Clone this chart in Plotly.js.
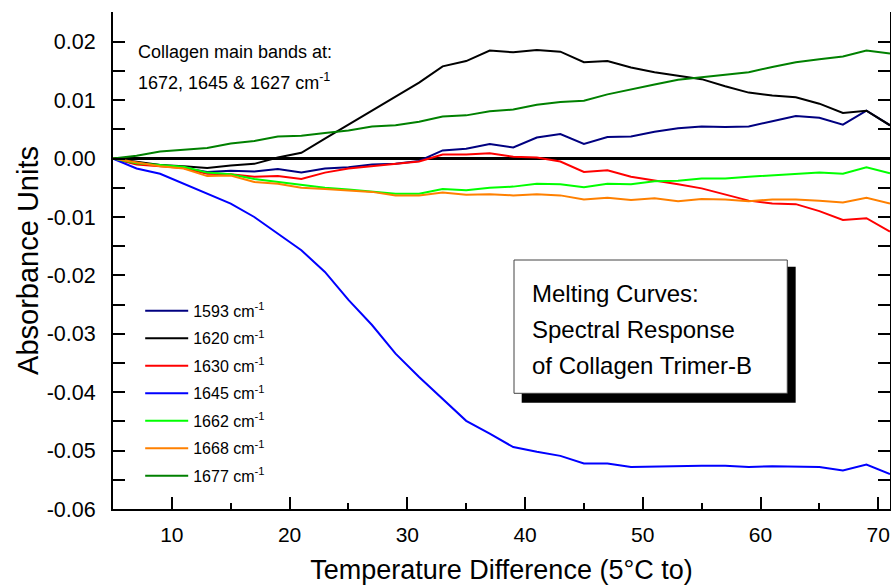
<!DOCTYPE html>
<html>
<head>
<meta charset="utf-8">
<script src="https://cdn.plot.ly/plotly-3.0.1.min.js"></script>
<style>html,body{margin:0;padding:0;background:#fff;}#chart{width:891px;height:585px;}</style>
</head>
<body>
<div id="chart"></div>
<script>
// Temperature difference (x values)
const temps = [5,7,9,11,13,15,17,19,21,23,25,27,29,31,33,35,37,39,41,43,45,47,49,51,53,55,57,59,61,63,65,67,69,71];

// Series values (absorbance units)
const s1593 = [0,-0.0009,-0.0011,-0.0016,-0.0023,-0.0021,-0.0022,-0.0018,-0.0024,-0.0017,-0.0015,-0.001,-0.0009,-0.0004,0.0014,0.0017,0.0025,0.0019,0.0036,0.0042,0.0025,0.0037,0.0038,0.0046,0.0052,0.0055,0.0054,0.0055,0.0064,0.0073,0.007,0.0058,0.0082,0.0057];
const s1620 = [0,-0.0006,-0.0011,-0.0013,-0.0016,-0.0012,-0.0009,0.0002,0.001,0.0034,0.0058,0.0082,0.0105,0.013,0.0158,0.0167,0.0185,0.0182,0.0186,0.0183,0.0165,0.0167,0.0156,0.0148,0.0142,0.0136,0.0124,0.0113,0.0108,0.0105,0.0094,0.0078,0.0082,0.0057];
const s1630 = [0,-0.001,-0.0013,-0.0016,-0.0026,-0.0027,-0.0031,-0.003,-0.0035,-0.0024,-0.0017,-0.0013,-0.001,-0.0005,0.0007,0.0007,0.0009,0.0003,0.0002,-0.0005,-0.0023,-0.002,-0.0031,-0.0037,-0.0044,-0.0051,-0.0062,-0.0072,-0.0077,-0.0078,-0.009,-0.0105,-0.0102,-0.0125];
const s1645 = [0,-0.0017,-0.0026,-0.0043,-0.006,-0.0077,-0.01,-0.0128,-0.0157,-0.0194,-0.0242,-0.0285,-0.0334,-0.0374,-0.0411,-0.0449,-0.0471,-0.0494,-0.0502,-0.0509,-0.0522,-0.0522,-0.0528,-0.0527,-0.0526,-0.0526,-0.0526,-0.0528,-0.0527,-0.0527,-0.0528,-0.0534,-0.0524,-0.054];
const s1662 = [0,-0.0008,-0.0011,-0.0014,-0.0024,-0.0027,-0.0035,-0.004,-0.0046,-0.005,-0.0053,-0.0057,-0.006,-0.006,-0.0052,-0.0054,-0.005,-0.0048,-0.0043,-0.0044,-0.0049,-0.0043,-0.0044,-0.0039,-0.0038,-0.0034,-0.0034,-0.0031,-0.0029,-0.0027,-0.0024,-0.0026,-0.0015,-0.0025];
const s1668 = [0,-0.0007,-0.0013,-0.0017,-0.003,-0.0029,-0.004,-0.0043,-0.005,-0.0052,-0.0054,-0.0057,-0.0063,-0.0063,-0.0058,-0.0062,-0.0061,-0.0063,-0.0061,-0.0063,-0.007,-0.0067,-0.0071,-0.0068,-0.0073,-0.0069,-0.007,-0.0073,-0.007,-0.007,-0.0072,-0.0075,-0.0067,-0.0077];
const s1677 = [0,0.0005,0.0012,0.0015,0.0018,0.0026,0.003,0.0038,0.0039,0.0044,0.0048,0.0055,0.0057,0.0063,0.0072,0.0074,0.0081,0.0084,0.0092,0.0097,0.0099,0.011,0.0119,0.0127,0.0135,0.0139,0.0143,0.0148,0.0157,0.0165,0.017,0.0175,0.0185,0.018];

const seriesNames = ['1593 cm<sup>-1</sup>','1620 cm<sup>-1</sup>','1630 cm<sup>-1</sup>','1645 cm<sup>-1</sup>','1662 cm<sup>-1</sup>','1668 cm<sup>-1</sup>','1677 cm<sup>-1</sup>'];
const seriesValues = [s1593, s1620, s1630, s1645, s1662, s1668, s1677];
const seriesColors = ['#000080','#000000','#ff0000','#0000ff','#00ff00','#ff8000','#008000'];

// Tick labels
const xTickVals = [10,20,30,40,50,60,70];
const xTickText = ['10','20','30','40','50','60','70'];
const yTickVals = [-0.06,-0.05,-0.04,-0.03,-0.02,-0.01,0,0.01,0.02];
const yTickText = ['-0.06','-0.05','-0.04','-0.03','-0.02','-0.01','0.00','0.01','0.02'];

const FONT = 'Arial, "Liberation Sans", sans-serif';

const traces = seriesValues.map((vals, i) => ({
  x: temps, y: vals, type: 'scatter', mode: 'lines',
  name: seriesNames[i], legendgroup: 'g' + i,
  line: {color: seriesColors[i], width: 2}
}));

const layout = {
  width: 891, height: 585,
  margin: {l: 113, r: 1, t: 12, b: 76, pad: 0},
  paper_bgcolor: '#fff', plot_bgcolor: '#fff',
  font: {family: FONT, color: '#000'},
  showlegend: true,
  legend: {
    x: 0.035, y: 0.433, xanchor: 'left', yanchor: 'top',
    bgcolor: 'rgba(0,0,0,0)', borderwidth: 0,
    font: {family: FONT, size: 16, color: '#000'},
    tracegroupgap: 3.7, traceorder: 'grouped', itemwidth: 43
  },
  xaxis: {
    range: [5, 71], tickmode: 'array', tickvals: xTickVals, ticktext: xTickText,
    ticks: 'inside', ticklen: 12, tickwidth: 2, tickcolor: '#000',
    minor: {ticks: 'inside', dtick: 5, tick0: 0, ticklen: 6, tickwidth: 2, tickcolor: '#000'},
    showline: true, linewidth: 2, linecolor: '#000', mirror: false,
    showgrid: false, zeroline: false,
    tickfont: {family: FONT, size: 21, color: '#000'}, ticklabelstandoff: 6,
    title: {text: 'Temperature Difference (5°C to)', font: {family: FONT, size: 27, color: '#000'}, standoff: 18}
  },
  xaxis2: {
    range: [5, 71], overlaying: 'x', side: 'top', anchor: 'y',
    tickmode: 'linear', tick0: 0, dtick: 5,
    ticks: 'inside', ticklen: 12, tickwidth: 2, tickcolor: '#000',
    showticklabels: false, showline: true, linewidth: 2, linecolor: '#000',
    showgrid: false, zeroline: false
  },
  yaxis: {
    range: [-0.06, 0.0251], tickmode: 'array', tickvals: yTickVals, ticktext: yTickText,
    ticks: 'inside', ticklen: 12, tickwidth: 2, tickcolor: '#000',
    minor: {ticks: 'inside', dtick: 0.005, tick0: 0.005, ticklen: 12, tickwidth: 2, tickcolor: '#000'},
    showline: true, linewidth: 2, linecolor: '#000', mirror: 'ticks',
    showgrid: false, zeroline: true, zerolinecolor: '#000', zerolinewidth: 2.5,
    tickfont: {family: FONT, size: 21.5, color: '#000'}, ticklabelstandoff: 11,
    title: {text: 'Absorbance Units', font: {family: FONT, size: 29, color: '#000'}, standoff: 0}
  },
  shapes: [
    {type: 'rect', xref: 'paper', yref: 'paper', x0: 0.526, x1: 0.8786, y0: 0.2139, y1: 0.4875,
     fillcolor: '#000', line: {width: 0}, layer: 'above'},
    {type: 'rect', xref: 'paper', yref: 'paper', x0: 0.5161, x1: 0.8678, y0: 0.2328, y1: 0.501,
     fillcolor: '#fff', line: {color: '#444', width: 1}, layer: 'above'}
  ],
  annotations: [
    {xref: 'paper', yref: 'paper', x: 0.030, y: 0.920, xanchor: 'left', yanchor: 'middle', showarrow: false,
     text: 'Collagen main bands at:', font: {family: FONT, size: 18, color: '#000'}},
    {xref: 'paper', yref: 'paper', x: 0.030, y: 0.8598, xanchor: 'left', yanchor: 'middle', showarrow: false,
     text: '1672, 1645 &amp; 1627 cm<sup>-1</sup>', font: {family: FONT, size: 18, color: '#000'}},
    {xref: 'paper', yref: 'paper', x: 0.537, y: 0.4346, xanchor: 'left', yanchor: 'middle', showarrow: false,
     text: 'Melting Curves:', font: {family: FONT, size: 24, color: '#000'}},
    {xref: 'paper', yref: 'paper', x: 0.537, y: 0.3602, xanchor: 'left', yanchor: 'middle', showarrow: false,
     text: 'Spectral Response', font: {family: FONT, size: 24, color: '#000'}},
    {xref: 'paper', yref: 'paper', x: 0.537, y: 0.2897, xanchor: 'left', yanchor: 'middle', showarrow: false,
     text: 'of Collagen Trimer-B', font: {family: FONT, size: 24, color: '#000'}}
  ]
};

Plotly.newPlot('chart', traces, layout, {displayModeBar: false, staticPlot: true});
</script>
</body>
</html>
